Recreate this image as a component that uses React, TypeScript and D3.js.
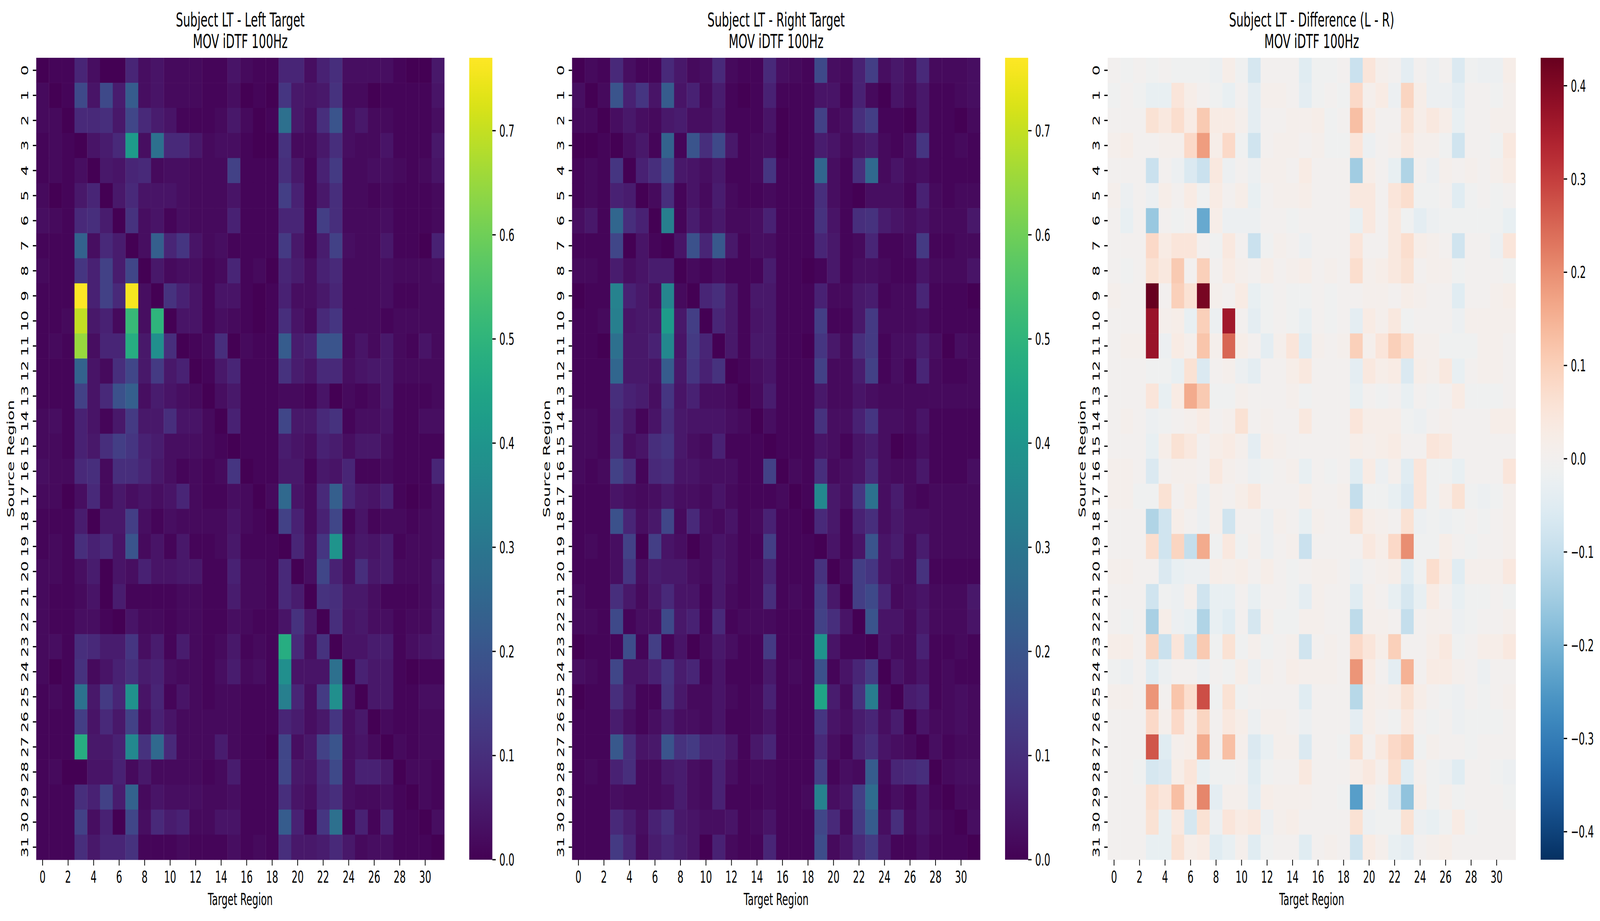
import * as d3 from 'd3';

// iDTF connectivity, rows = source region, columns = target region
const leftTarget: number[][] = [
  [0.00,0.01,0.01,0.08,0.03,0.00,0.00,0.08,0.03,0.04,0.02,0.02,0.02,0.01,0.01,0.04,0.02,0.01,0.01,0.08,0.08,0.03,0.07,0.10,0.03,0.03,0.03,0.03,0.01,0.00,0.00,0.05],
  [0.02,0.00,0.01,0.17,0.04,0.17,0.06,0.22,0.03,0.04,0.02,0.02,0.02,0.01,0.01,0.03,0.00,0.01,0.00,0.12,0.05,0.04,0.05,0.11,0.02,0.02,0.00,0.01,0.01,0.01,0.01,0.04],
  [0.02,0.02,0.00,0.09,0.09,0.10,0.05,0.16,0.09,0.06,0.04,0.01,0.01,0.01,0.02,0.05,0.02,0.00,0.01,0.28,0.05,0.03,0.10,0.20,0.03,0.05,0.02,0.02,0.01,0.01,0.01,0.03],
  [0.01,0.02,0.01,0.00,0.04,0.06,0.09,0.42,0.03,0.28,0.09,0.09,0.05,0.02,0.03,0.03,0.01,0.00,0.00,0.11,0.02,0.02,0.05,0.10,0.03,0.02,0.02,0.04,0.01,0.01,0.01,0.05],
  [0.01,0.02,0.01,0.03,0.00,0.05,0.04,0.08,0.09,0.02,0.03,0.03,0.02,0.02,0.02,0.15,0.01,0.01,0.01,0.10,0.05,0.01,0.07,0.13,0.02,0.02,0.03,0.03,0.02,0.01,0.02,0.04],
  [0.02,0.00,0.01,0.05,0.08,0.00,0.05,0.09,0.04,0.04,0.04,0.03,0.02,0.02,0.02,0.04,0.01,0.01,0.01,0.14,0.07,0.01,0.05,0.10,0.02,0.02,0.01,0.02,0.01,0.01,0.01,0.02],
  [0.03,0.02,0.01,0.09,0.10,0.06,0.00,0.11,0.03,0.04,0.01,0.03,0.02,0.02,0.02,0.07,0.01,0.01,0.01,0.08,0.08,0.01,0.14,0.10,0.02,0.02,0.02,0.03,0.01,0.01,0.01,0.02],
  [0.01,0.01,0.01,0.24,0.03,0.09,0.06,0.00,0.03,0.23,0.08,0.12,0.04,0.02,0.03,0.01,0.01,0.01,0.01,0.13,0.05,0.01,0.06,0.15,0.03,0.02,0.02,0.05,0.01,0.01,0.00,0.07],
  [0.02,0.01,0.01,0.12,0.07,0.15,0.06,0.16,0.00,0.05,0.02,0.03,0.03,0.01,0.02,0.08,0.01,0.02,0.00,0.08,0.06,0.03,0.07,0.09,0.02,0.02,0.02,0.03,0.02,0.02,0.02,0.03],
  [0.01,0.01,0.01,0.77,0.07,0.15,0.09,0.76,0.03,0.00,0.11,0.07,0.04,0.01,0.04,0.04,0.01,0.00,0.01,0.07,0.03,0.03,0.05,0.08,0.02,0.02,0.02,0.03,0.01,0.01,0.02,0.02],
  [0.01,0.01,0.02,0.70,0.05,0.07,0.02,0.52,0.03,0.50,0.00,0.04,0.04,0.01,0.03,0.02,0.01,0.00,0.01,0.10,0.04,0.02,0.09,0.12,0.02,0.02,0.02,0.01,0.02,0.02,0.02,0.02],
  [0.01,0.02,0.01,0.65,0.03,0.08,0.08,0.48,0.05,0.38,0.10,0.00,0.01,0.02,0.10,0.00,0.02,0.01,0.01,0.22,0.06,0.07,0.20,0.20,0.02,0.04,0.02,0.05,0.02,0.01,0.04,0.02],
  [0.01,0.01,0.01,0.24,0.04,0.02,0.10,0.16,0.05,0.13,0.05,0.07,0.00,0.01,0.05,0.08,0.01,0.01,0.01,0.11,0.06,0.04,0.09,0.09,0.03,0.04,0.05,0.05,0.02,0.02,0.02,0.02],
  [0.01,0.01,0.01,0.15,0.04,0.09,0.19,0.23,0.03,0.06,0.04,0.03,0.02,0.00,0.03,0.05,0.01,0.01,0.01,0.02,0.02,0.01,0.04,0.00,0.02,0.01,0.02,0.05,0.01,0.01,0.01,0.02],
  [0.02,0.03,0.01,0.07,0.04,0.01,0.05,0.13,0.05,0.05,0.10,0.04,0.04,0.02,0.00,0.07,0.01,0.01,0.01,0.16,0.05,0.05,0.09,0.11,0.01,0.03,0.03,0.04,0.01,0.01,0.03,0.03],
  [0.02,0.02,0.01,0.07,0.05,0.10,0.14,0.12,0.07,0.06,0.03,0.03,0.03,0.02,0.01,0.00,0.01,0.01,0.01,0.06,0.04,0.03,0.07,0.06,0.03,0.05,0.05,0.03,0.01,0.01,0.01,0.01],
  [0.03,0.02,0.02,0.09,0.10,0.02,0.10,0.10,0.08,0.05,0.03,0.01,0.02,0.01,0.02,0.12,0.00,0.01,0.01,0.05,0.05,0.01,0.05,0.04,0.08,0.01,0.01,0.02,0.01,0.01,0.01,0.08],
  [0.02,0.02,0.00,0.03,0.09,0.02,0.05,0.03,0.04,0.03,0.04,0.08,0.02,0.01,0.01,0.03,0.02,0.00,0.02,0.26,0.04,0.02,0.09,0.23,0.08,0.05,0.04,0.07,0.01,0.00,0.01,0.03],
  [0.01,0.01,0.01,0.06,0.00,0.05,0.05,0.14,0.03,0.01,0.03,0.02,0.02,0.02,0.02,0.04,0.02,0.01,0.00,0.15,0.07,0.02,0.07,0.16,0.01,0.04,0.01,0.02,0.02,0.01,0.02,0.03],
  [0.01,0.02,0.01,0.10,0.07,0.09,0.04,0.20,0.02,0.04,0.01,0.05,0.01,0.01,0.02,0.05,0.01,0.01,0.01,0.00,0.08,0.03,0.12,0.40,0.03,0.05,0.04,0.06,0.01,0.02,0.02,0.03],
  [0.02,0.02,0.01,0.03,0.06,0.00,0.04,0.03,0.07,0.04,0.04,0.05,0.05,0.01,0.01,0.07,0.02,0.02,0.01,0.09,0.00,0.03,0.16,0.07,0.03,0.10,0.05,0.06,0.02,0.02,0.02,0.05],
  [0.02,0.01,0.01,0.02,0.04,0.00,0.06,0.01,0.01,0.01,0.01,0.02,0.02,0.01,0.01,0.06,0.02,0.02,0.01,0.09,0.06,0.00,0.11,0.10,0.05,0.05,0.03,0.01,0.01,0.01,0.02,0.04],
  [0.02,0.01,0.01,0.03,0.03,0.01,0.00,0.04,0.02,0.02,0.01,0.02,0.02,0.01,0.01,0.03,0.02,0.01,0.01,0.04,0.11,0.05,0.00,0.10,0.04,0.05,0.03,0.03,0.01,0.02,0.02,0.05],
  [0.02,0.03,0.01,0.10,0.09,0.06,0.06,0.12,0.03,0.06,0.01,0.06,0.02,0.01,0.02,0.05,0.01,0.02,0.01,0.48,0.09,0.03,0.11,0.00,0.04,0.04,0.06,0.06,0.01,0.03,0.04,0.05],
  [0.02,0.00,0.01,0.11,0.02,0.04,0.07,0.10,0.06,0.07,0.03,0.02,0.02,0.01,0.03,0.06,0.02,0.03,0.01,0.38,0.04,0.04,0.04,0.28,0.00,0.07,0.05,0.05,0.01,0.00,0.01,0.01],
  [0.01,0.02,0.01,0.29,0.05,0.13,0.08,0.39,0.04,0.08,0.01,0.04,0.02,0.01,0.02,0.02,0.01,0.01,0.01,0.33,0.08,0.03,0.13,0.38,0.04,0.00,0.05,0.05,0.01,0.01,0.03,0.03],
  [0.01,0.01,0.01,0.14,0.04,0.09,0.05,0.15,0.03,0.07,0.04,0.02,0.02,0.02,0.02,0.02,0.01,0.01,0.01,0.08,0.06,0.03,0.05,0.12,0.03,0.05,0.00,0.02,0.01,0.01,0.02,0.02],
  [0.01,0.01,0.01,0.48,0.05,0.05,0.07,0.36,0.11,0.26,0.09,0.02,0.02,0.02,0.06,0.02,0.01,0.01,0.00,0.16,0.03,0.05,0.15,0.20,0.03,0.04,0.02,0.00,0.02,0.01,0.02,0.02],
  [0.01,0.02,0.00,0.00,0.04,0.04,0.07,0.02,0.05,0.02,0.02,0.02,0.02,0.01,0.02,0.06,0.01,0.01,0.01,0.16,0.05,0.04,0.09,0.17,0.03,0.07,0.07,0.05,0.00,0.02,0.02,0.01],
  [0.01,0.01,0.01,0.10,0.07,0.15,0.06,0.24,0.02,0.04,0.03,0.03,0.03,0.02,0.02,0.03,0.01,0.01,0.01,0.10,0.04,0.03,0.08,0.10,0.03,0.02,0.02,0.03,0.01,0.00,0.02,0.01],
  [0.01,0.01,0.01,0.15,0.03,0.07,0.00,0.16,0.03,0.09,0.06,0.07,0.02,0.02,0.04,0.04,0.01,0.01,0.01,0.22,0.07,0.01,0.12,0.28,0.01,0.07,0.01,0.07,0.01,0.01,0.00,0.03],
  [0.01,0.01,0.01,0.10,0.05,0.08,0.08,0.11,0.01,0.01,0.01,0.02,0.01,0.01,0.01,0.03,0.01,0.02,0.01,0.10,0.05,0.05,0.06,0.09,0.05,0.02,0.03,0.03,0.01,0.01,0.01,0.00],
];

const rightTarget: number[][] = [
  [0.00,0.02,0.01,0.09,0.03,0.01,0.01,0.09,0.05,0.02,0.03,0.09,0.02,0.01,0.01,0.09,0.03,0.02,0.01,0.17,0.03,0.02,0.07,0.14,0.03,0.05,0.03,0.09,0.02,0.02,0.02,0.03],
  [0.03,0.00,0.02,0.20,0.07,0.12,0.04,0.22,0.04,0.07,0.02,0.06,0.01,0.00,0.01,0.07,0.01,0.01,0.01,0.04,0.04,0.01,0.07,0.02,0.00,0.04,0.02,0.05,0.01,0.01,0.02,0.03],
  [0.02,0.02,0.00,0.03,0.05,0.03,0.02,0.05,0.06,0.03,0.03,0.05,0.01,0.01,0.01,0.04,0.00,0.01,0.01,0.15,0.02,0.03,0.10,0.14,0.01,0.01,0.00,0.05,0.01,0.01,0.00,0.02],
  [0.00,0.00,0.01,0.00,0.03,0.05,0.01,0.24,0.01,0.20,0.10,0.17,0.05,0.01,0.02,0.03,0.00,0.01,0.01,0.06,0.04,0.02,0.04,0.06,0.02,0.01,0.03,0.12,0.01,0.01,0.02,0.01],
  [0.01,0.02,0.01,0.12,0.00,0.07,0.10,0.17,0.05,0.04,0.03,0.05,0.01,0.01,0.02,0.12,0.01,0.01,0.01,0.25,0.03,0.01,0.10,0.26,0.02,0.04,0.02,0.03,0.01,0.01,0.01,0.01],
  [0.01,0.02,0.01,0.07,0.06,0.00,0.02,0.10,0.01,0.04,0.02,0.06,0.02,0.01,0.01,0.02,0.01,0.01,0.01,0.10,0.03,0.01,0.00,0.03,0.03,0.03,0.01,0.07,0.02,0.01,0.02,0.02],
  [0.03,0.05,0.01,0.25,0.10,0.07,0.00,0.33,0.01,0.06,0.03,0.05,0.02,0.02,0.03,0.07,0.01,0.01,0.01,0.11,0.04,0.01,0.10,0.11,0.06,0.04,0.03,0.04,0.02,0.02,0.02,0.05],
  [0.01,0.01,0.01,0.16,0.00,0.04,0.01,0.00,0.04,0.19,0.08,0.21,0.05,0.01,0.03,0.03,0.01,0.01,0.01,0.08,0.05,0.01,0.02,0.08,0.01,0.01,0.02,0.13,0.01,0.01,0.02,0.02],
  [0.02,0.02,0.01,0.06,0.03,0.04,0.06,0.06,0.00,0.02,0.01,0.03,0.01,0.01,0.01,0.06,0.01,0.01,0.00,0.01,0.05,0.01,0.03,0.03,0.02,0.01,0.01,0.04,0.02,0.02,0.02,0.04],
  [0.00,0.01,0.01,0.34,0.07,0.05,0.03,0.35,0.02,0.00,0.08,0.10,0.05,0.01,0.05,0.05,0.01,0.01,0.01,0.07,0.02,0.02,0.05,0.06,0.01,0.02,0.02,0.08,0.01,0.01,0.01,0.00],
  [0.01,0.01,0.02,0.33,0.04,0.05,0.05,0.42,0.05,0.14,0.00,0.08,0.05,0.01,0.04,0.05,0.01,0.01,0.01,0.14,0.01,0.01,0.05,0.13,0.02,0.02,0.02,0.03,0.01,0.01,0.01,0.01],
  [0.01,0.01,0.00,0.28,0.05,0.05,0.07,0.36,0.04,0.13,0.08,0.00,0.05,0.01,0.05,0.05,0.01,0.01,0.00,0.12,0.05,0.02,0.10,0.13,0.01,0.03,0.03,0.06,0.03,0.00,0.03,0.02],
  [0.01,0.01,0.01,0.25,0.05,0.05,0.04,0.22,0.05,0.12,0.07,0.11,0.00,0.01,0.03,0.04,0.01,0.01,0.01,0.15,0.02,0.02,0.06,0.15,0.01,0.03,0.01,0.08,0.02,0.01,0.01,0.02],
  [0.01,0.01,0.01,0.10,0.07,0.06,0.03,0.12,0.04,0.07,0.03,0.03,0.02,0.00,0.02,0.06,0.01,0.01,0.01,0.05,0.02,0.02,0.04,0.03,0.02,0.02,0.02,0.02,0.02,0.02,0.02,0.02],
  [0.02,0.02,0.01,0.09,0.05,0.01,0.04,0.10,0.05,0.04,0.04,0.04,0.03,0.02,0.00,0.03,0.01,0.01,0.01,0.11,0.03,0.03,0.07,0.12,0.03,0.03,0.02,0.04,0.01,0.01,0.01,0.01],
  [0.02,0.02,0.01,0.10,0.03,0.04,0.10,0.12,0.05,0.03,0.02,0.07,0.01,0.01,0.01,0.00,0.01,0.01,0.01,0.04,0.03,0.01,0.04,0.06,0.03,0.00,0.01,0.03,0.01,0.01,0.01,0.01],
  [0.02,0.01,0.02,0.15,0.10,0.01,0.09,0.10,0.04,0.04,0.03,0.03,0.03,0.01,0.01,0.15,0.00,0.02,0.01,0.10,0.02,0.03,0.04,0.09,0.03,0.02,0.02,0.05,0.01,0.01,0.01,0.03],
  [0.01,0.01,0.01,0.04,0.03,0.02,0.03,0.05,0.03,0.03,0.02,0.04,0.02,0.01,0.01,0.01,0.02,0.00,0.01,0.36,0.05,0.03,0.12,0.29,0.03,0.06,0.02,0.01,0.02,0.02,0.02,0.02],
  [0.01,0.01,0.01,0.19,0.08,0.03,0.05,0.16,0.02,0.09,0.03,0.02,0.04,0.01,0.02,0.07,0.01,0.01,0.00,0.09,0.05,0.01,0.07,0.10,0.03,0.05,0.03,0.03,0.02,0.02,0.02,0.02],
  [0.01,0.02,0.01,0.03,0.15,0.00,0.14,0.04,0.03,0.00,0.02,0.04,0.03,0.01,0.01,0.14,0.01,0.01,0.01,0.00,0.04,0.01,0.04,0.20,0.04,0.06,0.02,0.06,0.02,0.02,0.02,0.02],
  [0.01,0.01,0.01,0.03,0.12,0.03,0.06,0.05,0.05,0.03,0.02,0.05,0.03,0.01,0.02,0.07,0.01,0.01,0.01,0.11,0.00,0.02,0.14,0.12,0.04,0.03,0.02,0.11,0.01,0.01,0.01,0.01],
  [0.02,0.01,0.01,0.10,0.05,0.02,0.05,0.09,0.04,0.04,0.01,0.05,0.02,0.01,0.02,0.10,0.01,0.02,0.01,0.14,0.05,0.00,0.14,0.17,0.08,0.02,0.03,0.04,0.02,0.02,0.02,0.05],
  [0.02,0.02,0.01,0.17,0.01,0.03,0.03,0.17,0.05,0.07,0.01,0.09,0.01,0.02,0.02,0.02,0.01,0.01,0.01,0.15,0.10,0.04,0.00,0.20,0.04,0.04,0.02,0.05,0.02,0.02,0.02,0.04],
  [0.00,0.01,0.01,0.01,0.18,0.01,0.14,0.01,0.04,0.00,0.02,0.05,0.03,0.01,0.01,0.13,0.01,0.01,0.01,0.40,0.04,0.01,0.01,0.00,0.04,0.02,0.02,0.07,0.01,0.01,0.02,0.01],
  [0.03,0.02,0.01,0.16,0.04,0.04,0.07,0.12,0.06,0.08,0.01,0.04,0.01,0.01,0.01,0.05,0.01,0.02,0.01,0.19,0.01,0.04,0.08,0.13,0.00,0.04,0.02,0.04,0.01,0.02,0.01,0.01],
  [0.00,0.01,0.01,0.10,0.05,0.01,0.01,0.11,0.05,0.02,0.02,0.04,0.02,0.01,0.02,0.07,0.01,0.01,0.01,0.45,0.06,0.02,0.11,0.32,0.02,0.00,0.06,0.07,0.01,0.02,0.03,0.02],
  [0.01,0.01,0.01,0.06,0.03,0.01,0.03,0.06,0.03,0.03,0.02,0.04,0.01,0.01,0.02,0.04,0.01,0.01,0.01,0.12,0.04,0.03,0.06,0.08,0.03,0.06,0.00,0.04,0.02,0.02,0.03,0.02],
  [0.01,0.01,0.01,0.21,0.10,0.04,0.05,0.20,0.11,0.13,0.08,0.08,0.05,0.01,0.05,0.08,0.01,0.01,0.01,0.09,0.03,0.01,0.07,0.10,0.04,0.03,0.02,0.00,0.03,0.01,0.02,0.02],
  [0.01,0.02,0.01,0.07,0.10,0.02,0.02,0.05,0.06,0.03,0.02,0.07,0.03,0.01,0.02,0.02,0.01,0.01,0.01,0.14,0.01,0.03,0.02,0.22,0.02,0.08,0.09,0.10,0.00,0.02,0.03,0.03],
  [0.01,0.01,0.01,0.03,0.02,0.02,0.02,0.03,0.06,0.03,0.02,0.07,0.01,0.01,0.01,0.02,0.01,0.01,0.02,0.34,0.03,0.04,0.14,0.27,0.01,0.03,0.01,0.04,0.01,0.00,0.02,0.02],
  [0.01,0.01,0.01,0.09,0.06,0.03,0.07,0.10,0.05,0.04,0.03,0.03,0.04,0.01,0.02,0.04,0.01,0.01,0.01,0.16,0.09,0.02,0.13,0.22,0.03,0.10,0.02,0.04,0.02,0.01,0.00,0.03],
  [0.01,0.01,0.01,0.13,0.08,0.02,0.06,0.08,0.06,0.04,0.00,0.07,0.02,0.01,0.01,0.08,0.01,0.01,0.01,0.18,0.02,0.04,0.09,0.13,0.05,0.01,0.01,0.03,0.01,0.01,0.01,0.00],
];

const regions = d3.range(32);
const xTickRegions = regions.filter((r) => r % 2 === 0);
const viridisTicks = [0, 0.1, 0.2, 0.3, 0.4, 0.5, 0.6, 0.7];
const diffTicks = [-0.4, -0.3, -0.2, -0.1, 0, 0.1, 0.2, 0.3, 0.4];
const titles = [
  ['Subject LT - Left Target', 'MOV iDTF 100Hz'],
  ['Subject LT - Right Target', 'MOV iDTF 100Hz'],
  ['Subject LT - Difference (L - R)', 'MOV iDTF 100Hz'],
];

const W = 7065;
const H = 2359;
const FONT = 'DejaVu Sans, sans-serif';
const panelX = [160, 2526, 4891];
const heatW = 1802;
const heatTop = 148;
const heatH = 2054;
const cbGap = 1912;
const cbW = 102;
const tickLen = 15;
const tickW = 3.3;

const fmt = (v: number) => {
  const s = v.toFixed(1);
  return v < 0 ? '\u2212' + s.slice(1) : s;
};

function Panel({
  idx,
  matrix,
  color,
  domain,
  ticks,
}: {
  idx: number;
  matrix: number[][];
  color: (v: number) => string;
  domain: [number, number];
  ticks: number[];
}) {
  const x0 = panelX[idx];
  const x = d3.scaleBand<number>().domain(regions).range([x0, x0 + heatW]);
  const y = d3.scaleBand<number>().domain(regions).range([heatTop, heatTop + heatH]);
  const cbX = x0 + cbGap;
  const cbY = d3.scaleLinear().domain(domain).range([heatTop + heatH, heatTop]);
  const gradId = `grad${idx}`;
  const stops = d3.range(0, 1.0001, 1 / 64);
  const cx = x0 + heatW / 2;

  return (
    <g>
      <defs>
        <linearGradient id={gradId} x1="0" y1="1" x2="0" y2="0">
          {stops.map((t, i) => (
            <stop key={i} offset={t} stopColor={color(domain[0] + t * (domain[1] - domain[0]))} />
          ))}
        </linearGradient>
      </defs>

      {/* cells */}
      {matrix.map((row, r) =>
        row.map((v, c) => (
          <rect
            key={`${r}-${c}`}
            x={x(c)}
            y={y(r)}
            width={x.bandwidth() + 0.6}
            height={y.bandwidth() + 0.6}
            fill={color(v)}
          />
        )),
      )}

      {/* titles */}
      {titles[idx].map((t, i) => (
        <text key={i} x={cx} y={68 + i * 55} textAnchor="middle" fontSize={50} fontFamily={FONT}>
          {t}
        </text>
      ))}

      {/* x ticks */}
      {xTickRegions.map((c) => {
        const px = (x(c) as number) + x.bandwidth() / 2;
        return (
          <g key={c}>
            <line x1={px} x2={px} y1={heatTop + heatH} y2={heatTop + heatH + tickLen} stroke="#000" strokeWidth={tickW} />
            <text x={px} y={2261} textAnchor="middle" fontSize={42} fontFamily={FONT}>
              {c}
            </text>
          </g>
        );
      })}
      <text x={cx} y={2318} textAnchor="middle" fontSize={42} fontFamily={FONT}>
        Target Region
      </text>

      {/* y ticks */}
      {regions.map((r) => {
        const py = (y(r) as number) + y.bandwidth() / 2;
        return (
          <g key={r}>
            <line x1={x0 - tickLen} x2={x0} y1={py} y2={py} stroke="#000" strokeWidth={tickW} />
            <text
              transform={`translate(${x0 - 36},${py}) rotate(-90)`}
              textAnchor="middle"
              fontSize={42}
              fontFamily={FONT}
            >
              {r}
            </text>
          </g>
        );
      })}
      <text
        transform={`translate(${x0 - 98},${heatTop + heatH / 2}) rotate(-90)`}
        textAnchor="middle"
        fontSize={42}
        fontFamily={FONT}
      >
        Source Region
      </text>

      {/* colorbar */}
      <rect x={cbX} y={heatTop} width={cbW} height={heatH} fill={`url(#${gradId})`} />
      {ticks.map((t) => (
        <g key={t}>
          <line x1={cbX + cbW} x2={cbX + cbW + tickLen} y1={cbY(t)} y2={cbY(t)} stroke="#000" strokeWidth={tickW} />
          <text x={cbX + cbW + 31} y={cbY(t)} dy="0.36em" fontSize={42} fontFamily={FONT}>
            {fmt(t)}
          </text>
        </g>
      ))}
    </g>
  );
}

export default function App() {
  const difference = leftTarget.map((row, r) => row.map((v, c) => v - rightTarget[r][c]));
  const vmax = d3.max([...leftTarget.flat(), ...rightTarget.flat()]) ?? 1;
  const dmax = d3.max(difference.flat(), (d) => Math.abs(d)) ?? 1;

  const viridis = d3.scaleSequential(d3.interpolateViridis).domain([0, vmax]);
  const rdbu = d3.scaleSequential((t: number) => d3.interpolateRdBu(1 - t)).domain([-dmax, dmax]);

  // fill the whole window so the picture covers the same frame as the reference
  return (
    <svg
      viewBox={`0 0 ${W} ${H}`}
      preserveAspectRatio="none"
      style={{ position: 'fixed', left: 0, top: 0, width: '100vw', height: '100vh', display: 'block', background: '#fff' }}
    >
      <rect width={W} height={H} fill="#fff" />
      <Panel idx={0} matrix={leftTarget} color={viridis} domain={[0, vmax]} ticks={viridisTicks} />
      <Panel idx={1} matrix={rightTarget} color={viridis} domain={[0, vmax]} ticks={viridisTicks} />
      <Panel idx={2} matrix={difference} color={rdbu} domain={[-dmax, dmax]} ticks={diffTicks} />
    </svg>
  );
}
